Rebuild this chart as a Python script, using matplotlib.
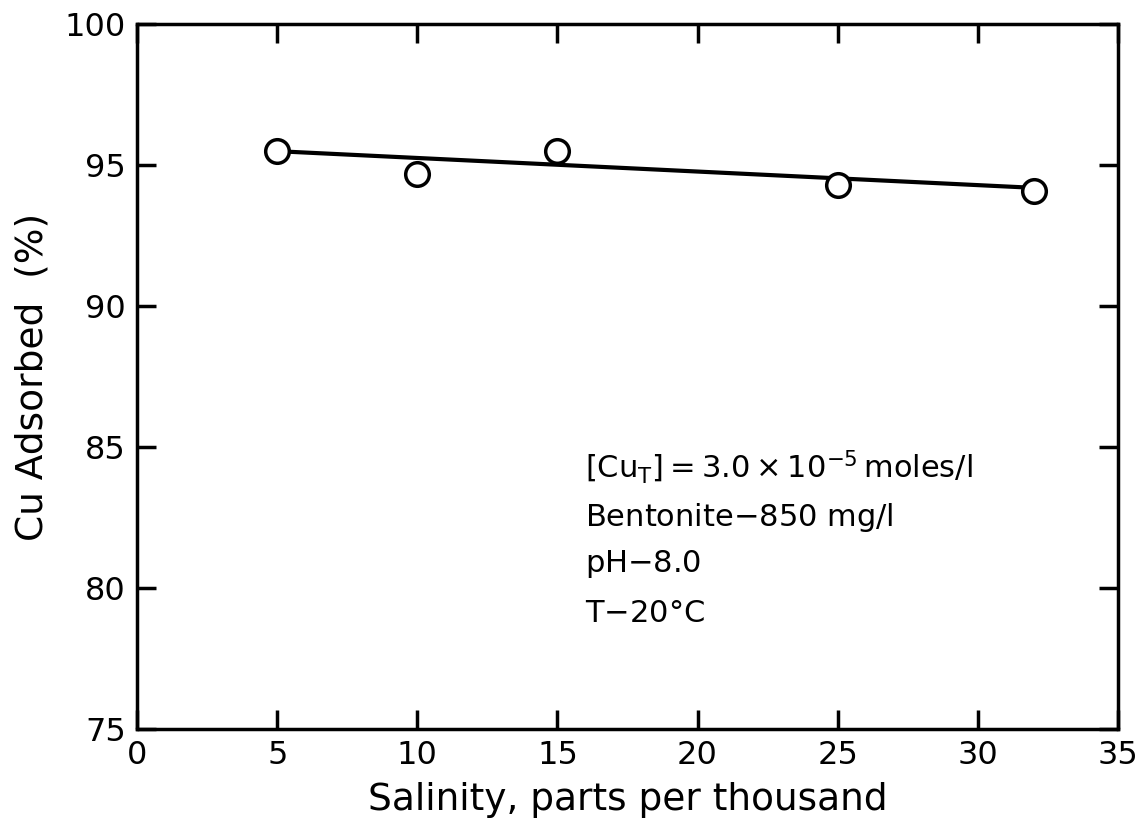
import matplotlib
matplotlib.use('Agg')
import matplotlib.pyplot as plt

salinity = [5, 10, 15, 25, 32]
cu_adsorbed = [95.5, 94.7, 95.5, 94.3, 94.1]
fit_x = [5, 32]
fit_y = [95.5, 94.2]

fig = plt.figure(figsize=(11.43, 8.39), dpi=100)
ax = fig.add_axes([0.12, 0.131, 0.858, 0.84])
ax.plot(fit_x, fit_y, color='black', lw=3)
ax.plot(salinity, cu_adsorbed, 'o', ms=17, mfc='white', mec='black', mew=2.5)
ax.set_xlim(0, 35)
ax.set_ylim(75, 100)
ax.set_xticks(range(0, 36, 5))
ax.set_yticks(range(75, 101, 5))
ax.tick_params(direction='in', length=14, width=2.5, labelsize=23, top=True, right=True, pad=8)
for s in ax.spines.values():
    s.set_linewidth(2.5)
ax.set_xlabel('Salinity, parts per thousand', fontsize=27, labelpad=8)
ax.set_ylabel('Cu Adsorbed  (%)', fontsize=27, labelpad=10)

ax.text(16.0, 84.3, r'$[\mathrm{Cu_T}]=3.0\times10^{-5}\,\mathrm{moles/l}$', fontsize=22, va='center')
ax.text(16.0, 82.5, 'Bentonite$-$850 mg/l', fontsize=22, va='center')
ax.text(16.0, 80.85, 'pH$-$8.0', fontsize=22, va='center')
ax.text(16.0, 79.1, 'T$-$20°C', fontsize=22, va='center')

fig.savefig('out.png', dpi=100)
